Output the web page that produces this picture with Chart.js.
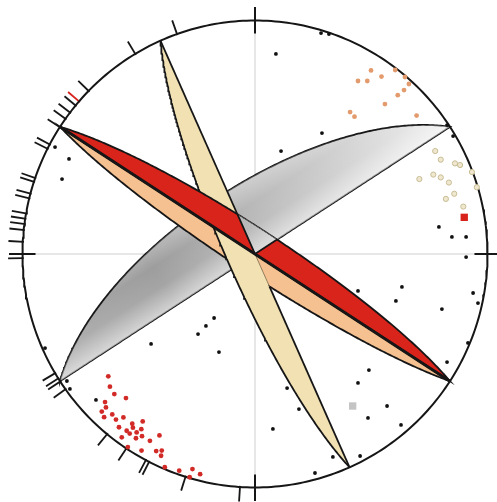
<!DOCTYPE html>
<html>
<head>
<meta charset="utf-8">
<script src="https://cdn.jsdelivr.net/npm/chart.js@4/dist/chart.umd.min.js"></script>
<style>
  html, body { margin: 0; padding: 0; background: #ffffff; overflow: hidden; }
  #wrap { width: 497px; height: 502px; }
</style>
</head>
<body>
<div id="wrap"><canvas id="net" width="497" height="502"></canvas></div>
<script>
// ---- Planes: [strike (right-hand rule), dip], equal-area lower hemisphere ----
const redPlane    = [303, 81.6];
const orangePlane = [123, 83.2];
const beigePlane  = [156, 80.3];
const grayPlane   = [237, 66.3];

// ---- Strike ticks on the primitive (azimuth, degrees) ----
const strikeTicks = [340.4, 329.0, 314.3, 309.5, 307.3, 305.4, 302.9, 298.0, 296.8,
  289.0, 288.0, 285.0, 283.8, 280.0, 278.7, 277.4, 275.9, 273.0, 269.0,
  239.3, 237.8, 236.9, 234.6, 219.5, 213.6, 208.0, 207.1, 197.4, 183.7];
const redStrikeTicks = [310.8];
const compassTicks = [0, 90, 180, 270];

// ---- Projected data (east, north) in primitive radii ----
const blackPoints = [
  [-0.860, 0.458], [-0.800, 0.407], [-0.830, 0.321], [0.284, 0.946], [0.318, 0.942],
  [0.090, 0.857], [0.288, 0.518], [0.112, 0.441], [0.852, 0.505], [0.826, 0.552],
  [0.791, 0.116], [0.847, 0.073], [0.908, 0.073], [0.908, -0.013], [0.632, -0.141],
  [0.938, -0.167], [0.959, -0.210], [0.804, -0.236], [0.916, -0.381], [0.826, -0.463],
  [0.443, -0.158], [0.606, -0.201], [0.490, -0.497], [0.443, -0.552], [0.138, -0.574],
  [0.568, -0.651], [0.486, -0.702], [0.628, -0.732], [0.189, -0.664], [0.077, -0.749],
  [0.335, -0.869], [0.452, -0.865], [0.258, -0.938], [-0.903, -0.403], [-0.809, -0.544],
  [-0.796, -0.578], [-0.684, -0.625], [-0.447, -0.385], [-0.245, -0.343], [-0.211, -0.308],
  [-0.176, -0.274], [-0.155, -0.420]
];
const orangePoints = [
  [0.499, 0.786], [0.443, 0.741], [0.483, 0.741], [0.544, 0.760], [0.603, 0.788],
  [0.645, 0.758], [0.662, 0.728], [0.641, 0.702], [0.614, 0.680], [0.559, 0.642],
  [0.409, 0.608], [0.428, 0.588], [0.695, 0.593]
];
const palePoints = [
  [0.775, 0.441], [0.799, 0.404], [0.860, 0.388], [0.882, 0.381], [0.933, 0.351],
  [0.707, 0.321], [0.767, 0.340], [0.799, 0.328], [0.834, 0.306], [0.954, 0.286],
  [0.857, 0.258], [0.821, 0.236], [0.896, 0.203]
];
const redPoints = [
  [-0.631, -0.524], [-0.624, -0.568], [-0.605, -0.600], [-0.555, -0.617], [-0.645, -0.634],
  [-0.641, -0.657], [-0.659, -0.675], [-0.649, -0.699], [-0.614, -0.687], [-0.598, -0.709],
  [-0.566, -0.700], [-0.528, -0.727], [-0.483, -0.717], [-0.585, -0.742], [-0.525, -0.744],
  [-0.552, -0.757], [-0.539, -0.769], [-0.509, -0.764], [-0.489, -0.750], [-0.573, -0.785],
  [-0.512, -0.789], [-0.486, -0.780], [-0.452, -0.800], [-0.411, -0.777], [-0.547, -0.827],
  [-0.488, -0.842], [-0.425, -0.844], [-0.401, -0.842], [-0.404, -0.864], [-0.388, -0.913],
  [-0.326, -0.928], [-0.269, -0.921], [-0.281, -0.956], [-0.236, -0.943]
];
const redSquares  = [[0.900, 0.157]];
const graySquares = [[0.420, -0.651]];

// ---- Net placement on the canvas ----
const CANVAS_W = 497, CANVAS_H = 502;
const CX = 255, CY = 254, RX = 232.5, RY = 233.5;

// ---- Geometry helpers ----
const toRad = d => d * Math.PI / 180;
const polar = (az, r) => ({ x: r * Math.sin(toRad(az)), y: r * Math.cos(toRad(az)) });
const azimuthOf = p => (Math.atan2(p.x, p.y) * 180 / Math.PI + 360) % 360;
const inArc = (a, from, to) => from <= to ? (a >= from && a <= to) : (a >= from || a <= to);
const angGap = (a, b) => Math.abs(((a - b + 540) % 360) - 180);

// Equal-area (Schmidt) trace of a plane, from the strike end to the opposite end.
function greatCircle(strike, dip, steps = 240) {
  const s = toRad(strike), d = toRad(dip), dd = s + Math.PI / 2;
  const S = [Math.sin(s), Math.cos(s)];
  const D = [Math.cos(d) * Math.sin(dd), Math.cos(d) * Math.cos(dd), -Math.sin(d)];
  const pts = [];
  for (let i = 0; i <= steps; i++) {
    const b = Math.PI * i / steps;
    const vx = Math.cos(b) * S[0] + Math.sin(b) * D[0];
    const vy = Math.cos(b) * S[1] + Math.sin(b) * D[1];
    const vz = Math.sin(b) * D[2];
    const k = 1 / Math.sqrt(1 + Math.abs(vz));
    pts.push({ x: vx * k, y: vy * k });
  }
  return pts;
}
// Area between the vertical plane of the same strike and the dipping plane.
function wedge(plane) {
  return greatCircle(plane[0], 90).concat(greatCircle(plane[0], plane[1]).reverse());
}
// Point of a trace lying closest to a given azimuth from the centre.
function traceAt(plane, az) {
  return greatCircle(plane[0], plane[1], 4000)
    .reduce((best, p) => angGap(azimuthOf(p), az) < angGap(azimuthOf(best), az) ? p : best);
}

const origin = { x: 0, y: 0 };
const redArc = greatCircle(redPlane[0], redPlane[1], 3000)
  .filter(p => inArc(azimuthOf(p), (beigePlane[0] + 180) % 360, (grayPlane[0] + 180) % 360));
const grayPatch = [origin, ...redArc, origin];
const grayPatchEdges = [redArc[0], origin, redArc[redArc.length - 1]];
const grayDipPoint = greatCircle(grayPlane[0], grayPlane[1], 2)[1];
// where the beige vertical trace leaves the orange wedge
const beigeExit = traceAt(orangePlane, beigePlane[0]);

const primitive = [];
for (let a = 0; a <= 360; a += 1) primitive.push(polar(a, 1));

// ---- Fills ----
function px(chart, p) {
  return [chart.scales.x.getPixelForValue(p.x), chart.scales.y.getPixelForValue(p.y)];
}
function gradient(ctx, from, to, stops, fallback) {
  const c = ctx.chart;
  if (!c.scales || !c.scales.x || !c.scales.y) return fallback;
  const [x0, y0] = px(c, from);
  const [x1, y1] = px(c, to);
  if (![x0, y0, x1, y1].every(Number.isFinite)) return fallback;
  const g = c.ctx.createLinearGradient(x0, y0, x1, y1);
  stops.forEach(([o, col]) => g.addColorStop(o, col));
  return g;
}
const grayAlong = ctx => gradient(ctx, polar(grayPlane[0], 1), polar(grayPlane[0] + 180, 1),
  [[0, '#ababab'], [0.3, '#9d9d9d'], [0.7, '#c9c9c9'], [1, '#ececec']], '#c4c4c4');
const grayAcross = ctx => gradient(ctx, origin, grayDipPoint,
  [[0, 'rgba(255,255,255,0.55)'], [0.35, 'rgba(255,255,255,0.08)'], [0.65, 'rgba(255,255,255,0)'], [1, 'rgba(255,255,255,0.3)']],
  'rgba(255,255,255,0)');

const INK = '#161616';
const lineSet = (data, o) => Object.assign({ data, showLine: true, pointRadius: 0, fill: false,
  borderColor: INK, borderWidth: 1.8, tension: 0 }, o);
const dotSet = (arr, o) => Object.assign({ data: arr.map(([x, y]) => ({ x, y })), showLine: false,
  pointBorderWidth: 0, order: 0 }, o);

const datasets = [
  // points
  dotSet(blackPoints, { pointRadius: 1.9, pointBackgroundColor: '#111111' }),
  dotSet(orangePoints, { pointRadius: 2.4, pointBackgroundColor: '#e39a6c' }),
  dotSet(palePoints, { pointRadius: 2.6, pointBackgroundColor: '#efe8cf', pointBorderColor: '#c8bc95', pointBorderWidth: 1 }),
  dotSet(redPoints, { pointRadius: 2.4, pointBackgroundColor: '#d22b27' }),
  dotSet(redSquares, { pointStyle: 'rect', pointRadius: 5.2, pointBackgroundColor: '#d8231d' }),
  dotSet(graySquares, { pointStyle: 'rect', pointRadius: 5.2, pointBackgroundColor: '#c4c4c4' }),
  // primitive and ticks
  lineSet(primitive, { borderWidth: 2, order: 1 }),
  ...compassTicks.map(a => lineSet([polar(a, 0.944), polar(a, 1.058)], { borderWidth: 2, order: 1 })),
  ...strikeTicks.map(a => lineSet([polar(a, 0.995), polar(a, 1.062)], { borderWidth: 1.8, order: 1 })),
  ...redStrikeTicks.map(a => lineSet([polar(a, 0.995), polar(a, 1.062)], { borderColor: '#d8231d', borderWidth: 1.8, order: 1 })),
  // vertical plane shared by the red and orange planes
  lineSet(greatCircle(redPlane[0], 90, 2), { borderWidth: 3, order: 2 }),
  // part of the gray plane seen above the red plane
  lineSet(grayPatchEdges, { borderWidth: 1.8, order: 3 }),
  lineSet(grayPatch, { fill: 'shape', backgroundColor: grayAcross, borderWidth: 0.7, borderColor: '#555555', order: 4 }),
  lineSet(grayPatch, { fill: 'shape', backgroundColor: grayAlong, borderWidth: 0, order: 4 }),
  // red plane
  lineSet(wedge(redPlane), { fill: 'shape', backgroundColor: '#d9241b', order: 5 }),
  // beige plane: outline pieces, then fill
  lineSet(greatCircle(beigePlane[0], beigePlane[1]), { order: 6 }),
  lineSet([polar(beigePlane[0] + 180, 1), origin], { order: 6 }),
  lineSet([origin, beigeExit], { borderWidth: 0.7, borderColor: '#6a5a40', order: 6 }),
  lineSet([beigeExit, polar(beigePlane[0], 1)], { order: 6 }),
  lineSet(wedge(beigePlane), { fill: 'shape', backgroundColor: '#f1e1b3', borderWidth: 0, order: 6 }),
  // orange plane
  lineSet(wedge(orangePlane), { fill: 'shape', backgroundColor: '#f5c190', order: 7 }),
  // gray plane
  lineSet(wedge(grayPlane), { fill: 'shape', backgroundColor: grayAcross, borderWidth: 0, order: 8 }),
  lineSet(wedge(grayPlane), { fill: 'shape', backgroundColor: grayAlong, order: 9 }),
  // reference cross
  lineSet([polar(270, 1), polar(90, 1)], { borderColor: '#cfcfcf', borderWidth: 1, order: 10 }),
  lineSet([polar(0, 1), polar(180, 1)], { borderColor: '#cfcfcf', borderWidth: 1, order: 10 })
];

new Chart(document.getElementById('net'), {
  type: 'scatter',
  data: { datasets },
  options: {
    responsive: false,
    animation: false,
    devicePixelRatio: 1,
    events: [],
    layout: { padding: 0, autoPadding: false },
    plugins: { legend: { display: false }, tooltip: { enabled: false } },
    scales: {
      x: { type: 'linear', display: false, min: -CX / RX, max: (CANVAS_W - CX) / RX },
      y: { type: 'linear', display: false, min: -(CANVAS_H - CY) / RY, max: CY / RY }
    }
  }
});
</script>
</body>
</html>
